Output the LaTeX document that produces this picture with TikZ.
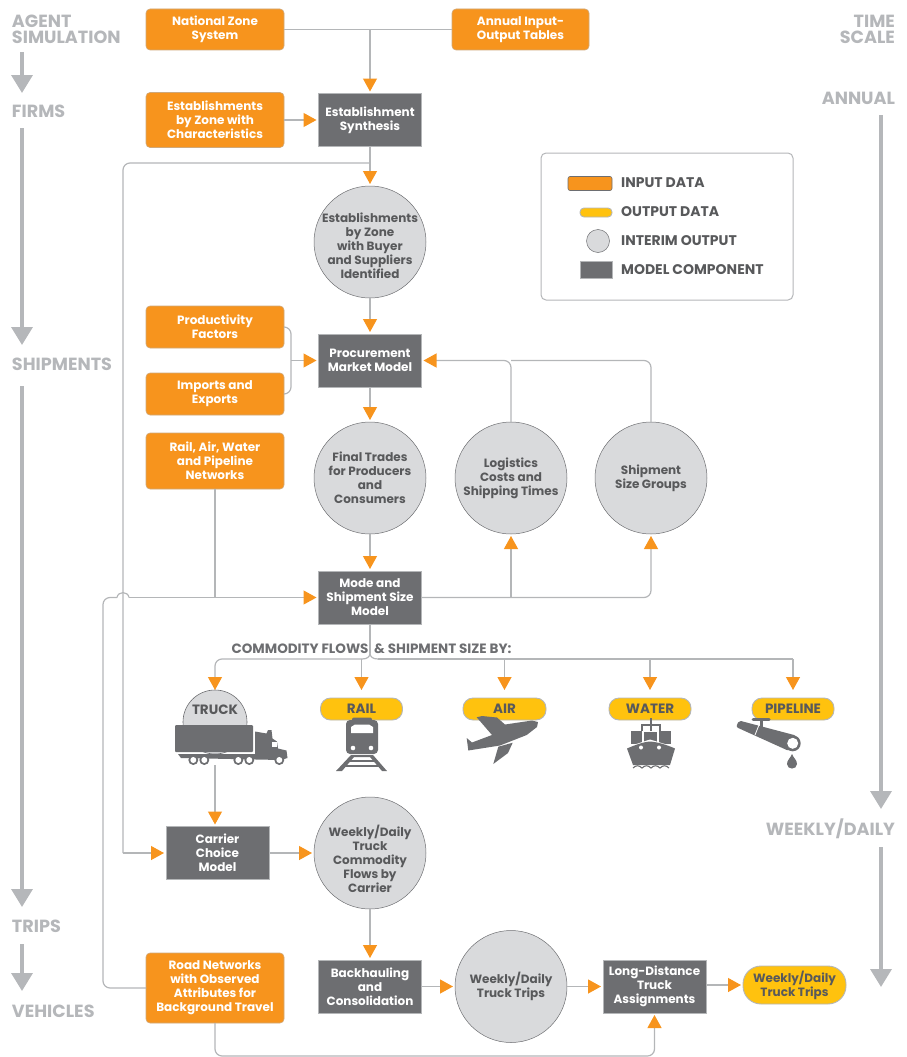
\documentclass[tikz,border=0pt]{standalone}
\usepackage{fontspec}
\setmainfont{Poppins}
\usetikzlibrary{arrows.meta}
\definecolor{inputorange}{HTML}{F7941D}
\definecolor{outputyellow}{HTML}{FFC20E}
\definecolor{modelgray}{HTML}{6D6E71}
\definecolor{interimgray}{HTML}{D9DADC}
\definecolor{linegray}{HTML}{B4B6B8}
\definecolor{textgray}{HTML}{58595B}
\definecolor{sidegray}{HTML}{B5B7BA}
\tikzset{
    boxfont/.style={font=\fontsize{12}{14}\selectfont\bfseries,align=center,inner sep=0pt,outer sep=0pt},
    capsfont/.style={font=\fontsize{13.5}{14}\selectfont\bfseries},
    inputbox/.style={boxfont,rectangle,rounded corners=4pt,fill=inputorange,draw=linegray!60!inputorange,line width=0.6pt,text=white,minimum width=138pt},
    modelbox/.style={boxfont,rectangle,fill=modelgray,draw=linegray,line width=0.4pt,text=white,minimum width=103pt,minimum height=53pt},
    interim/.style={boxfont,circle,fill=interimgray,draw=modelgray,line width=0.5pt,text=textgray,minimum size=112pt},
    circletext/.style={boxfont,text=textgray},
    outputpill/.style={boxfont,rectangle,rounded corners=10pt,fill=outputyellow,draw=linegray,line width=0.9pt,text=textgray,minimum width=82pt,minimum height=22pt},
    sidelabel/.style={font=\fontsize{17.6}{18}\selectfont\bfseries,text=sidegray,inner sep=0pt,outer sep=0pt},
    legendlabel/.style={font=\fontsize{14}{14}\selectfont\bfseries,text=textgray,anchor=west,inner sep=0pt},
    plainline/.style={draw=linegray,line width=1.2pt,rounded corners=7pt},
    flow/.style={plainline,-{Triangle[length=13pt,width=14pt,color=inputorange]},shorten >=2pt},
    timearrow/.style={draw=sidegray,line width=3.5pt,-{Triangle[length=18pt,width=21pt]}},
    icon/.style={fill=modelgray,draw=none}
}
\begin{document}
\begin{tikzpicture}[x=1pt,y=-1pt]
    \useasboundingbox (0,0) rectangle (906,1057);
    % time lines at the sides
    \node[sidelabel,anchor=west] (agent) at (12,21) {AGENT};
    \node[sidelabel,anchor=west] (simulation) at (12,37) {SIMULATION};
    \node[sidelabel,anchor=west] (firms) at (12,111) {FIRMS};
    \node[sidelabel,anchor=west] (shipments) at (12,364) {SHIPMENTS};
    \node[sidelabel,anchor=west] (trips) at (12,926) {TRIPS};
    \node[sidelabel,anchor=west] (vehicles) at (12,1011) {VEHICLES};
    \node[sidelabel,anchor=east] (time) at (895,21) {TIME};
    \node[sidelabel,anchor=east] (scale) at (895,37) {SCALE};
    \node[sidelabel,anchor=east] (annual) at (895,98) {ANNUAL};
    \node[sidelabel,anchor=east] (weekly) at (895,829) {WEEKLY/DAILY};
    \coordinate (leftA) at (22,52);
    \coordinate (leftB) at (22,93);
    \coordinate (leftC) at (22,128);
    \coordinate (leftD) at (22,345);
    \coordinate (leftE) at (22,386);
    \coordinate (leftF) at (22,907);
    \coordinate (leftG) at (22,944);
    \coordinate (leftH) at (22,991);
    \coordinate (rightA) at (881,115);
    \coordinate (rightB) at (881,809);
    \coordinate (rightC) at (881,847);
    \coordinate (rightD) at (881,987);
    \draw[timearrow] (leftA) -- (leftB);
    \draw[timearrow] (leftC) -- (leftD);
    \draw[timearrow] (leftE) -- (leftF);
    \draw[timearrow] (leftG) -- (leftH);
    \draw[timearrow] (rightA) -- (rightB);
    \draw[timearrow] (rightC) -- (rightD);%
    % legend
    \node[draw=linegray,line width=1pt,rounded corners=5pt,minimum width=252pt,minimum height=147pt,inner sep=0pt] (legend) at (667,226.5) {};
    \node[inputbox,minimum width=44pt,minimum height=14pt,draw=modelgray,rounded corners=2pt] (legendinput) at (590,183.5) {};
    \node[outputpill,minimum width=32pt,minimum height=9pt,rounded corners=4pt] (legendoutput) at (596,212.5) {};
    \node[interim,minimum size=23pt] (legendinterim) at (598,241) {};
    \node[modelbox,minimum width=32pt,minimum height=17pt] (legendmodel) at (596,269.5) {};
    \node[legendlabel] (inputlabel) at (621,183) {INPUT DATA};
    \node[legendlabel] (outputlabel) at (621,212) {OUTPUT DATA};
    \node[legendlabel] (interimlabel) at (621,241) {INTERIM OUTPUT};
    \node[legendlabel] (modellabel) at (621,270) {MODEL COMPONENT};%
    % upper part
    \node[inputbox,minimum height=41pt] (zones) at (215,29.5) {National Zone\\System};
    \node[inputbox,minimum width=137pt,minimum height=41pt] (tables) at (520.5,29.5) {Annual Input-\\Output Tables};
    \node[inputbox,minimum height=55pt] (establish) at (215,120) {Establishments\\by Zone with\\Characteristics};
    \node[modelbox] (synthesis) at (370,120) {Establishment\\Synthesis};
    \node[interim] (buyers) at (370,242) {};
    \node[circletext] (buyerstext) at (370,246) {Establishments\\by Zone\\with Buyer\\and Suppliers\\Identified};
    \node[inputbox,minimum height=42pt] (productivity) at (215,327) {Productivity\\Factors};
    \node[inputbox,minimum height=42pt] (imports) at (215,394) {Imports and\\Exports};
    \node[modelbox] (procure) at (370,360.5) {Procurement\\Market Model};
    \node[inputbox,minimum height=56pt] (networks) at (215,461) {Rail, Air, Water\\and Pipeline\\Networks};
    \node[interim] (trades) at (370,478) {Final Trades\\for Producers\\and\\Consumers};
    \node[interim] (logistics) at (511,478) {Logistics\\Costs and\\Shipping Times};
    \node[interim] (sizes) at (651,478) {Shipment\\Size Groups};
    \node[modelbox] (mode) at (370,597.5) {Mode and\\Shipment Size\\Model};
    \node[capsfont,text=modelgray,inner sep=0pt] (flowtitle) at (371.5,649) {COMMODITY FLOWS\ \ \& SHIPMENT SIZE BY:};%
    % the five modes
    \node[boxfont,circle,fill=interimgray,draw=modelgray,line width=0.6pt,minimum size=64pt] (truckdome) at (215,722) {};
    \node[boxfont,capsfont,text=textgray] (truck) at (215,710) {TRUCK};
    \node[outputpill,capsfont] (rail) at (361.5,709) {RAIL};
    \node[outputpill,capsfont,minimum width=83pt] (air) at (504.5,709) {AIR};
    \node[outputpill,capsfont] (water) at (650,709) {WATER};
    \node[outputpill,capsfont] (pipeline) at (793,709) {PIPELINE};%
    % lower part
    \node[modelbox] (carrier) at (217.5,853) {Carrier\\Choice\\Model};
    \node[interim] (truckflows) at (370,853) {};
    \node[circletext] (truckflowstext) at (370,859) {Weekly/Daily\\Truck\\Commodity\\Flows by\\Carrier};
    \node[inputbox,minimum height=70pt] (road) at (215,988) {Road Networks\\with Observed\\Attributes for\\Background Travel};
    \node[modelbox] (backhaul) at (370,986.5) {Backhauling\\and\\Consolidation};
    \node[interim] (trucktrips) at (511,986.5) {Weekly/Daily\\Truck Trips};
    \node[modelbox] (longdist) at (654.5,986.5) {Long-Distance\\Truck\\Assignments};
    \node[outputpill,minimum width=103pt,minimum height=38pt,rounded corners=18pt] (result) at (794.5,985) {Weekly/Daily\\Truck Trips};%
    % truck
    \fill[icon,rounded corners=1pt] (175,725) rectangle (253,752);
    \fill[icon] (178,754) -- (255,754) -- (255,731.5) -- (266.5,733.5) -- (268,730) -- (271.5,730) -- (272.5,738.5) -- (277,741.5) -- (278,748.5) -- (286.5,750.5) -- (287.5,758) -- (281,760) -- (181,758) -- cycle;
    \fill[white] (271.5,741.5) rectangle (276.5,746.5);
    \foreach \wheelx in {193.3,204.3,238.3,249.3,279.3} {
        \fill[modelgray] (\wheelx,760) circle (5pt);
        \fill[white] (\wheelx,760) circle (3pt);
    }
    % train
    \fill[icon,rounded corners=2pt] (352,717.5) rectangle (372,723);
    \fill[icon,rounded corners=4pt] (346,720) rectangle (378,754);
    \fill[white] (351,727) -- (355,724.5) -- (369,724.5) -- (373,727) -- (373,733) -- (351,733) -- cycle;
    \fill[white] (353,748) circle (2.3pt);
    \fill[white] (371,748) circle (2.3pt);
    \fill[icon] (351,755) -- (373,755) -- (387,771) -- (382,771) -- (370,757) -- (354,757) -- (342,771) -- (336,771) -- cycle;
    \fill[icon] (347,760) rectangle (377,762);
    \fill[icon] (343,765) rectangle (381,767);
    % plane
    \fill[icon] (466.7,738) -- (472,742.5) -- (492,735) -- (476.7,717.3) -- (482,716) -- (497,717.5) -- (505,724.5) -- (532,720.5) -- (538,722) -- (537,727) -- (526.7,735) -- (500,745.5) -- (468.3,750.5) -- cycle;
    \fill[icon] (498.3,746.7) -- (512.7,742.7) -- (508,753) -- (493.3,764) -- cycle;
    % ship
    \draw[modelgray,line width=1.5pt] (651,718) -- (651,731);
    \draw[modelgray,line width=1.5pt] (642,731) -- (642,725) -- (660,725) -- (660,731);
    \fill[icon] (631,731) rectangle (642,744);
    \fill[icon] (644,732) rectangle (657,742);
    \fill[icon] (659,731) rectangle (671,744);
    \fill[white] (627,747) -- (650,739.5) -- (675,747) -- (675,750) -- (627,750) -- cycle;
    \fill[icon] (627,748.5) .. controls (635,745) and (643,742) .. (650,741.5) .. controls (658,742) and (667,745) .. (675,748.5) -- (670,765) -- (633,765) -- cycle;
    \fill[white] (641,747.5) circle (2pt);
    \fill[white] (659,747.5) circle (2pt);
    \draw[modelgray,line width=1.1pt] (633,768) .. controls (636,765) and (639,765) .. (642,768) .. controls (645,765) and (648,765) .. (651,768) .. controls (654,765) and (657,765) .. (660,768) .. controls (663,765) and (666,765) .. (669,768);
    % pipe
    \draw[modelgray,line width=3pt,line cap=round] (753,719) -- (769,719);
    \fill[icon] (759.5,719) rectangle (763,730);
    \fill[icon,rounded corners=2pt] (736,727) -- (739,720.5) -- (796,735.5) -- (789,751) -- cycle;
    \draw[white,line width=0.8pt] (759,725) -- (755,735);
    \fill[modelgray] (792.7,743.3) circle (8pt);
    \fill[white] (792.7,743.3) circle (5.5pt);
    \fill[icon] (792,754) .. controls (790.5,758) and (787,760) .. (787,764) .. controls (787,767) and (789.5,768.5) .. (792,768.5) .. controls (794.5,768.5) and (797,767) .. (797,764) .. controls (797,760) and (793.5,758) .. (792,754) -- cycle;%
    % joints and free ends
    \coordinate (topjoin) at (370,29.5);
    \coordinate (branchA) at (370,163);
    \coordinate (branchB) at (123,163);
    \coordinate (branchC) at (123,853);
    \coordinate (bracketA) at (291,327);
    \coordinate (bracketB) at (291,394);
    \coordinate (bracketC) at (291,360.5);
    \coordinate (procureJoin) at (511,360.5);
    \coordinate (modeJoin) at (511,597.5);
    \coordinate (networkJoin) at (215,597.5);
    \coordinate (hopA) at (117,597.5);
    \coordinate (hopB) at (129,597.5);
    \coordinate (roadA) at (103,988);
    \coordinate (roadB) at (103,597.5);
    \coordinate (splitA) at (370,653);
    \coordinate (splitL) at (362,659);
    \coordinate (splitR) at (378,659);
    \coordinate (truckLine) at (215,659);
    \coordinate (airLine) at (504.5,659);
    \coordinate (waterLine) at (650,659);
    \coordinate (pipeLine) at (793,659);
    \coordinate (truckTop) at (215,692);
    \coordinate (railTop) at (361.5,692);
    \coordinate (airTop) at (504.5,692);
    \coordinate (waterTop) at (650,692);
    \coordinate (pipeTop) at (793,692);
    \coordinate (truckBase) at (215,765);
    \coordinate (roadC) at (215,1056);
    \coordinate (roadD) at (654.5,1056);%
    % connectors of the upper part
    \draw[plainline] (zones) -- (tables);
    \draw[flow] (topjoin) -- (synthesis);
    \draw[flow] (establish) -- (synthesis);
    \draw[flow] (synthesis) -- (buyers);
    \draw[plainline] (branchA) -- (branchB) -- (branchC);
    \draw[flow] (branchC) -- (carrier);
    \draw[flow] (buyers) -- (procure);
    \draw[plainline] (productivity.east) -- (bracketA) -- (bracketB) -- (imports.east);
    \draw[flow] (bracketC) -- (procure);
    \draw[flow] (procure) -- (trades);
    \draw[flow] (trades) -- (mode);
    \draw[flow] (logistics.north) |- (procure.east);
    \draw[plainline] (sizes.north) |- (procureJoin);
    \draw[flow] (modeJoin) -- (logistics.south);
    \draw[flow] (mode.east) -| (sizes.south);
    \draw[plainline] (networks.south) -- (networkJoin);
    \draw[plainline] (road.west) -- (roadA) -- (roadB) -- (hopA);
    \draw[draw=linegray,line width=1.2pt] (hopA) .. controls (118,591) and (128,591) .. (hopB);
    \draw[flow] (hopB) -- (mode.west);%
    % connectors of the five modes
    \draw[draw=linegray,line width=1.2pt] (mode.south) -- (splitA);
    \draw[draw=linegray,line width=1.2pt] (splitA) .. controls (370,657) and (367,659) .. (splitL);
    \draw[draw=linegray,line width=1.2pt] (splitA) .. controls (370,657) and (373,659) .. (splitR);
    \draw[flow] (splitL) -- (truckLine) -- (truckTop);
    \draw[plainline] (splitR) -- (pipeLine);
    \draw[flow] (pipeLine) -- (pipeTop);
    \draw[flow] (railTop |- splitL) -- (railTop);
    \draw[flow] (airLine) -- (airTop);
    \draw[flow] (waterLine) -- (waterTop);%
    % connectors of the lower part
    \draw[flow] (truckBase) -- (truckBase |- carrier.north);
    \draw[flow] (carrier) -- (truckflows);
    \draw[flow] (truckflows) -- (backhaul);
    \draw[flow] (backhaul) -- (trucktrips);
    \draw[flow] (trucktrips) -- (longdist);
    \draw[flow] (longdist.east |- result) -- (result.west);
    \draw[flow] (road.south) -- (roadC) -- (roadD) -- (longdist.south);
\end{tikzpicture}
\end{document}
